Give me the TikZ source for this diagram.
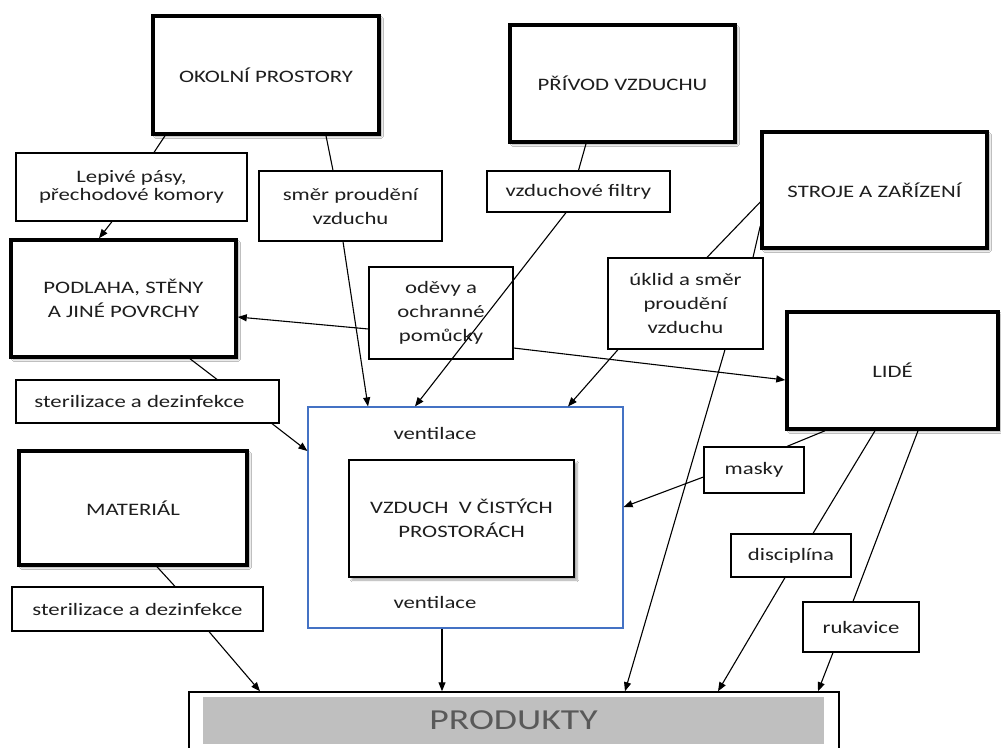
\documentclass[tikz,border=0pt]{standalone}
\usepackage{fontspec}
\setmainfont[FakeStretch=1.3]{Carlito}
\usetikzlibrary{arrows.meta,shadows.blur}
\definecolor{frameblue}{RGB}{68,114,196}
\definecolor{prodgray}{RGB}{191,191,191}
\definecolor{prodtext}{RGB}{89,89,89}
\definecolor{inkgray}{RGB}{30,30,30}
\begin{document}
\begin{tikzpicture}[x=1pt,y=-1pt,
  every node/.style={font=\fontsize{17.5}{24}\selectfont, text=inkgray},
  bigbox/.style={draw=black, line width=3.5pt, fill=white, align=center, inner sep=0pt,
    blur shadow={shadow xshift=2.5pt, shadow yshift=-2.5pt, shadow blur steps=6, shadow opacity=35}},
  midbox/.style={draw=black, line width=1.5pt, fill=white, align=center, inner sep=0pt,
    blur shadow={shadow xshift=3pt, shadow yshift=-3pt, shadow blur steps=6, shadow opacity=35}},
  lbl/.style={draw=black, line width=1.2pt, fill=white, align=center, inner sep=0pt},
  conn/.style={line width=1.1pt, draw=black},
  arr/.style={conn, -{Triangle[length=9pt,width=7pt]}}
]
\clip (0,0) rectangle (1001,747);
\fill[white] (0,0) rectangle (1001,747);

% outer blue frame
\node[draw=frameblue, line width=1.2pt, fill=white, minimum width=315pt, minimum height=221pt] (blue) at (465.5,517.5) {};
\node (venttop) at (435,433) {ventilace};
\node (ventbot) at (435,602) {ventilace};

% main boxes
\node[bigbox, minimum width=226pt, minimum height=118pt] (okol) at (266,75) {OKOLNÍ PROSTORY};
\node[bigbox, minimum width=225pt, minimum height=117pt] (privod) at (622.5,83.5) {PŘÍVOD VZDUCHU};
\node[bigbox, minimum width=225pt, minimum height=116pt] (stroje) at (874.5,190) {STROJE A ZAŘÍZENÍ};
\node[bigbox, minimum width=225pt, minimum height=117pt] (podl) at (123.5,298.5) {PODLAHA, STĚNY\\A JINÉ POVRCHY};
\node[bigbox, minimum width=211pt, minimum height=117pt] (lide) at (892.5,370.5) {LIDÉ};
\node[bigbox, minimum width=228pt, minimum height=114pt] (mat) at (133,508) {MATERIÁL};
\node[midbox, minimum width=225pt, minimum height=117pt] (vzduch) at (461.5,518.5) {VZDUCH\ \ V ČISTÝCH\\PROSTORÁCH};

% products
\node[draw=black, line width=1.5pt, fill=white, minimum width=650pt, minimum height=80pt] (prodframe) at (514,732) {};
\node[fill=prodgray, minimum width=621pt, minimum height=47pt, inner sep=0pt,
      font=\fontsize{29}{34}\selectfont, text=prodtext] (prod) at (513.5,720.5) {PRODUKTY};

% label boxes
\node[lbl, minimum width=231pt, minimum height=68pt] (lep) at (131.5,187) {Lepivé pásy,\\[-6pt]přechodové komory};
\node[lbl, minimum width=183pt, minimum height=70pt] (smer) at (350.5,206) {směr proudění\\vzduchu};
\node[lbl, minimum width=183pt, minimum height=41pt] (filt) at (578.5,191.5) {vzduchové filtry};
\node[lbl, minimum width=144pt, minimum height=92pt] (odev) at (441,313) {oděvy a\\ochranné\\pomůcky};
\node[lbl, minimum width=155pt, minimum height=91pt] (uklid) at (685.5,303.5) {úklid a směr\\proudění\\vzduchu};
\node[lbl, minimum width=263pt, minimum height=43pt] (ster1) at (147.5,401.5) {sterilizace a dezinfekce\hspace*{16pt}};
\node[lbl, minimum width=100pt, minimum height=46pt] (masky) at (754,470) {masky};
\node[lbl, minimum width=251pt, minimum height=44pt] (ster2) at (137.5,609) {sterilizace a dezinfekce};
\node[lbl, minimum width=120pt, minimum height=43pt] (disc) at (791,555.5) {disciplína};
\node[lbl, minimum width=116pt, minimum height=50pt] (ruk) at (861,627) {rukavice};

% connectors
\draw[conn] ([xshift=-101pt]okol.south) -- ([xshift=22.5pt]lep.north);
\draw[arr]  ([xshift=-19.5pt]lep.south) -- ([xshift=-24.5pt]podl.north);
\draw[conn] ([xshift=60pt]okol.south) -- ([xshift=-17.5pt]smer.north);
\draw[arr]  ([xshift=-7.5pt]smer.south) -- ([xshift=-97.5pt]blue.north);
\draw[conn] ([xshift=-36.5pt]privod.south) -- (filt.north);
\draw[arr]  ([xshift=-12.5pt]filt.south) -- ([xshift=-50.5pt]blue.north);
\draw[conn] ([yshift=-12pt]stroje.west) -- ([xshift=21.5pt]uklid.north);
\draw[arr]  ([xshift=-67.5pt]uklid.south) -- ([xshift=102.5pt]blue.north);
\draw[conn] ([yshift=-36pt]stroje.west) -- ([xshift=67.5pt]uklid.north);
\draw[arr]  ([xshift=39.5pt]uklid.south) -- ([xshift=111pt]prodframe.north);
\draw[arr]  ([yshift=-16pt]odev.west) -- ([yshift=-18.5pt]podl.east);
\draw[arr]  ([yshift=-35pt]odev.east) -- ([yshift=-9.5pt]lide.west);
\draw[conn] ([xshift=66.5pt]podl.south) -- ([xshift=69.5pt]ster1.north);
\draw[arr]  ([xshift=124.5pt]ster1.south) -- ([yshift=66.5pt]blue.west);
\draw[conn] ([xshift=24pt]mat.south) -- ([xshift=37.5pt]ster2.north);
\draw[arr]  ([xshift=71.5pt]ster2.south) -- ([xshift=-254pt]prodframe.north);
\draw[arr]  ([xshift=-23.5pt]blue.south) -- ([xshift=-72pt]prodframe.north);
\draw[conn] ([xshift=-67.5pt]lide.south) -- ([xshift=33pt]masky.north);
\draw[arr]  ([yshift=-7pt]masky.west) -- ([yshift=10.5pt]blue.east);
\draw[conn] ([xshift=-17.5pt]lide.south) -- ([xshift=22pt]disc.north);
\draw[arr]  ([xshift=-6pt]disc.south) -- ([xshift=204pt]prodframe.north);
\draw[conn] ([xshift=25.5pt]lide.south) -- ([xshift=-8pt]ruk.north);
\draw[arr]  ([xshift=-28pt]ruk.south) -- ([xshift=304pt]prodframe.north);
\end{tikzpicture}
\end{document}
